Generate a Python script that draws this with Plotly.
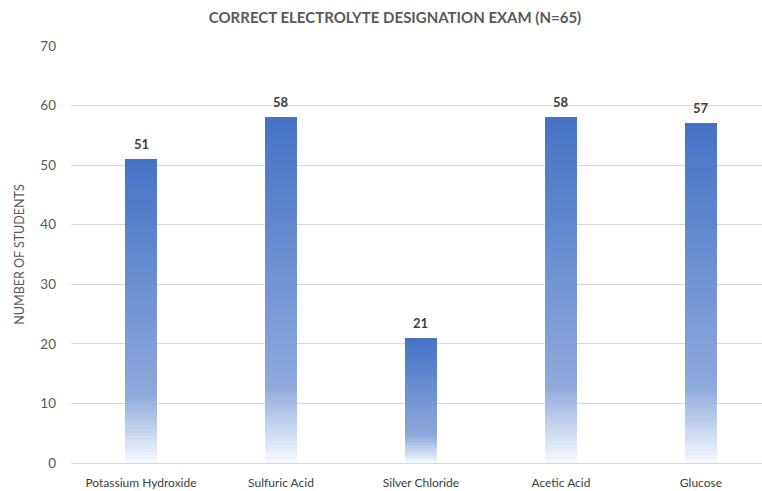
import plotly.graph_objects as go

categories = ["Potassium Hydroxide", "Sulfuric Acid", "Silver Chloride", "Acetic Acid", "Glucose"]
students = [51, 58, 21, 58, 57]
y_ticks = [0, 10, 20, 30, 40, 50, 60, 70]

N_SEG = 80
stops = [(0.0, (248, 250, 254)), (0.22, (143, 170, 220)), (1.0, (68, 114, 196))]


def grad(f):
    for (f0, c0), (f1, c1) in zip(stops[:-1], stops[1:]):
        if f <= f1:
            t = (f - f0) / (f1 - f0)
            return "rgb(%d,%d,%d)" % tuple(round(a + (b - a) * t) for a, b in zip(c0, c1))
    return "rgb(%d,%d,%d)" % stops[-1][1]


xs = list(range(len(categories)))
fig = go.Figure()
for i in range(N_SEG):
    f = (i + 0.5) / N_SEG
    fig.add_trace(go.Bar(
        x=xs, y=[v / N_SEG for v in students],
        marker=dict(color=grad(f), line=dict(width=0)),
        width=0.23, showlegend=False, hoverinfo="skip",
    ))

for x, v in zip(xs, students):
    fig.add_annotation(
        x=x, y=v, text=str(v), showarrow=False, yanchor="bottom", yshift=5,
        font=dict(family="Lato", size=13, color="#404040", weight="bold"),
    )

fig.update_layout(
    barmode="stack", bargap=0,
    width=762, height=491,
    margin=dict(l=71, r=0, t=46, b=28),
    plot_bgcolor="white", paper_bgcolor="white",
    title=dict(text="CORRECT ELECTROLYTE DESIGNATION EXAM (N=65)", x=395 / 762, xanchor="center",
               y=1 - 18 / 491, yanchor="middle",
               font=dict(family="Lato", size=15, color="#595959", weight="bold")),
    font=dict(family="Lato", color="#595959"),
)
fig.update_xaxes(
    range=[-0.5, 4.436], tickvals=xs, ticktext=categories,
    showgrid=False, zeroline=False, showline=False,
    tickfont=dict(family="Lato", size=12, color="#404040"),
    ticklabelstandoff=11,
)
fig.update_yaxes(
    range=[0, 70], tickvals=y_ticks, showgrid=True, gridcolor="#d9d9d9", gridwidth=1,
    zeroline=True, zerolinecolor="#d9d9d9", zerolinewidth=1, showline=False,
    tickfont=dict(family="Lato", size=13.5, color="#595959"),
    ticklabelstandoff=14,
    title=dict(text="NUMBER OF STUDENTS", font=dict(family="Lato", size=12.5, color="#595959"), standoff=12),
)

fig.write_html("out.html", config={"displayModeBar": False},
               post_script="document.body.style.margin='0';")
